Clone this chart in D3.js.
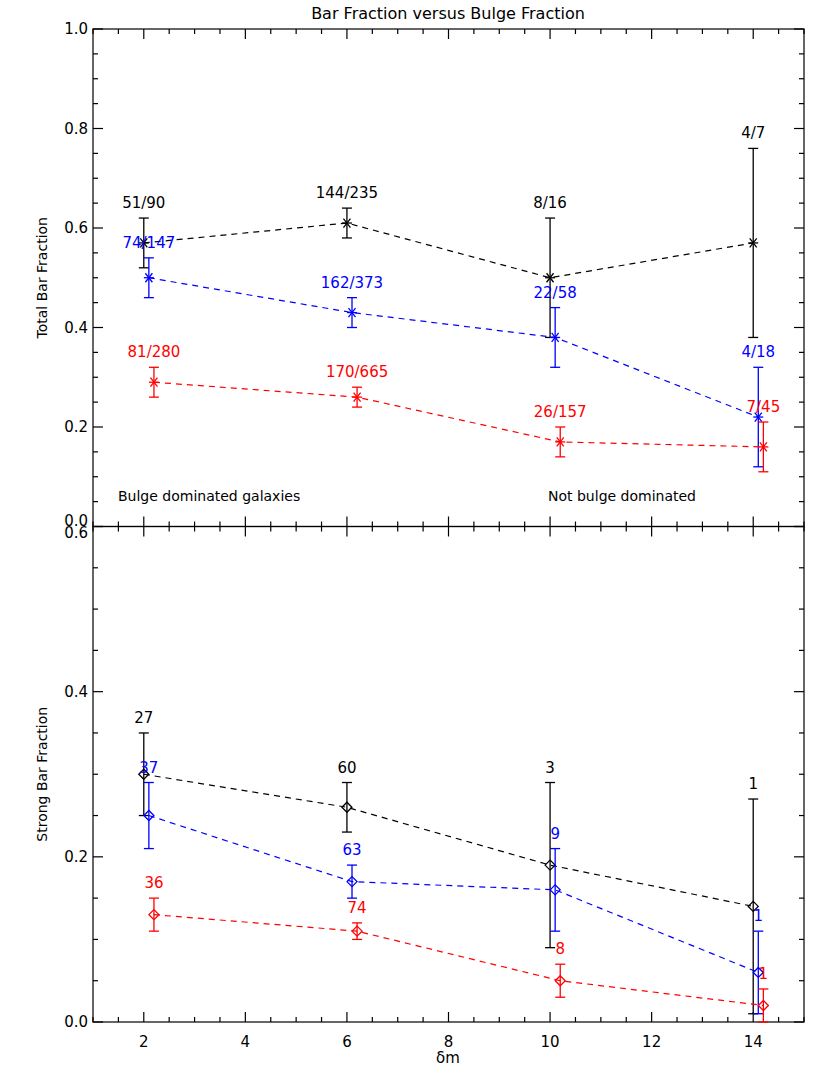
<!DOCTYPE html><html><head><meta charset="utf-8"><script src="https://cdn.jsdelivr.net/npm/d3@7"></script>
<style>body{margin:0;background:#fff}text{font-family:"DejaVu Sans",sans-serif}</style></head><body><svg id="c" width="830" height="1081"></svg>
<script>
const dm=[2,6,10,14];
const offsets=[0,0.1,0.2];
const colors=["black","blue","red"];
const totVal=[[0.57,0.61,0.50,0.57],[0.50,0.43,0.38,0.22],[0.29,0.26,0.17,0.16]];
const totErr=[[0.05,0.03,0.12,0.19],[0.04,0.03,0.06,0.10],[0.03,0.02,0.03,0.05]];
const totLab=[["51/90","144/235","8/16","4/7"],["74/147","162/373","22/58","4/18"],["81/280","170/665","26/157","7/45"]];
const strVal=[[0.30,0.26,0.19,0.14],[0.25,0.17,0.16,0.06],[0.13,0.11,0.05,0.02]];
const strErr=[[0.05,0.03,0.10,0.13],[0.04,0.02,0.05,0.05],[0.02,0.01,0.02,0.02]];
const strLab=[["27","60","3","1"],["37","63","9","1"],["36","74","8","1"]];
const topTicks=[0,0.2,0.4,0.6,0.8,1.0];
const botTicks=[0,0.2,0.4,0.6];
const xTicks=[2,4,6,8,10,12,14];

const svg=d3.select("#c");
const L=93,R=804;
const x=d3.scaleLinear().domain([1,15]).range([L,R]);
const yT=d3.scaleLinear().domain([0,1]).range([526.5,29]);
const yB=d3.scaleLinear().domain([0,0.6]).range([1022,526.5]);

function frame(y,ticks,minorStep,label,bottomLabels,isTop){
  const [y0,y1]=y.range();
  const g=svg.append("g").attr("stroke","black").attr("stroke-width",1.2);
  g.append("rect").attr("x",L).attr("y",y1).attr("width",R-L).attr("height",y0-y1).attr("fill","none");
  const d=y.domain();
  for(let v=d[0];v<=d[1]+1e-9;v+=minorStep){
    const major=ticks.some(t=>Math.abs(t-v)<1e-6);const len=major?10:5;
    g.append("line").attr("x1",L).attr("x2",L+len).attr("y1",y(v)).attr("y2",y(v));
    g.append("line").attr("x1",R).attr("x2",R-len).attr("y1",y(v)).attr("y2",y(v));
  }
  for(let v=1;v<=15.001;v+=0.5){
    const major=Math.abs(v%2)<1e-6;const len=major?10:5;
    g.append("line").attr("x1",x(v)).attr("x2",x(v)).attr("y1",y0).attr("y2",y0-len);
    g.append("line").attr("x1",x(v)).attr("x2",x(v)).attr("y1",y1).attr("y2",y1+len);
  }
  ticks.forEach((t,k)=>{
    let dy=5;
    if(isTop&&k===0)dy=-1;
    if(!isTop&&k===ticks.length-1)dy=11;
    svg.append("text").attr("x",L-5).attr("y",y(t)+dy).attr("text-anchor","end").attr("font-size",15).text(t.toFixed(1));
  });
  svg.append("text").attr("transform",`translate(47,${(y0+y1)/2}) rotate(-90)`).attr("text-anchor","middle").attr("font-size",14).text(label);
  if(bottomLabels){
    xTicks.forEach(t=>svg.append("text").attr("x",x(t)).attr("y",y0+25).attr("text-anchor","middle").attr("font-size",15).text(t));
  }
}
frame(yT,topTicks,0.05,"Total Bar Fraction",false,true);
frame(yB,botTicks,0.05,"Strong Bar Fraction",true,false);

function series(y,vals,errs,labs,marker,labOff){
  vals.forEach((vs,i)=>{
    const c=colors[i];
    const pts=vs.map((v,j)=>[x(dm[j]+offsets[i]),y(v)]);
    svg.append("path").attr("d",d3.line()(pts)).attr("fill","none").attr("stroke",c).attr("stroke-width",1.2).attr("stroke-dasharray","6,5");
    vs.forEach((v,j)=>{
      const px=x(dm[j]+offsets[i]),e=errs[i][j];
      const lo=Math.max(y.domain()[0],v-e);
      const g=svg.append("g").attr("stroke",c).attr("stroke-width",1.3).attr("fill","none");
      g.append("line").attr("x1",px).attr("x2",px).attr("y1",y(lo)).attr("y2",y(v+e));
      [lo,v+e].forEach(q=>g.append("line").attr("x1",px-5).attr("x2",px+5).attr("y1",y(q)).attr("y2",y(q)));
      const py=y(v);
      if(marker==="star"){
        const s=5;
        g.append("line").attr("x1",px-s).attr("x2",px+s).attr("y1",py).attr("y2",py);
        g.append("line").attr("x1",px-s*0.7).attr("x2",px+s*0.7).attr("y1",py-s*0.9).attr("y2",py+s*0.9);
        g.append("line").attr("x1",px+s*0.7).attr("x2",px-s*0.7).attr("y1",py-s*0.9).attr("y2",py+s*0.9);
      } else {
        const s=5;
        g.append("path").attr("d",`M${px-s},${py}L${px},${py-s}L${px+s},${py}L${px},${py+s}Z`);
      }
      svg.append("text").attr("x",px).attr("y",y(v+e)-labOff).attr("text-anchor","middle").attr("font-size",15).attr("fill",c).text(labs[i][j]);
    });
  });
}
series(yT,totVal,totErr,totLab,"star",10);
series(yB,strVal,strErr,strLab,"diamond",10);

svg.append("text").attr("x",448).attr("y",19).attr("text-anchor","middle").attr("font-size",16).text("Bar Fraction versus Bulge Fraction");
svg.append("text").attr("x",118).attr("y",501).attr("font-size",14).text("Bulge dominated galaxies");
svg.append("text").attr("x",548).attr("y",501).attr("font-size",14).text("Not bulge dominated");
svg.append("text").attr("x",448).attr("y",1063).attr("text-anchor","middle").attr("font-size",15).text("δm");
</script></body></html>
